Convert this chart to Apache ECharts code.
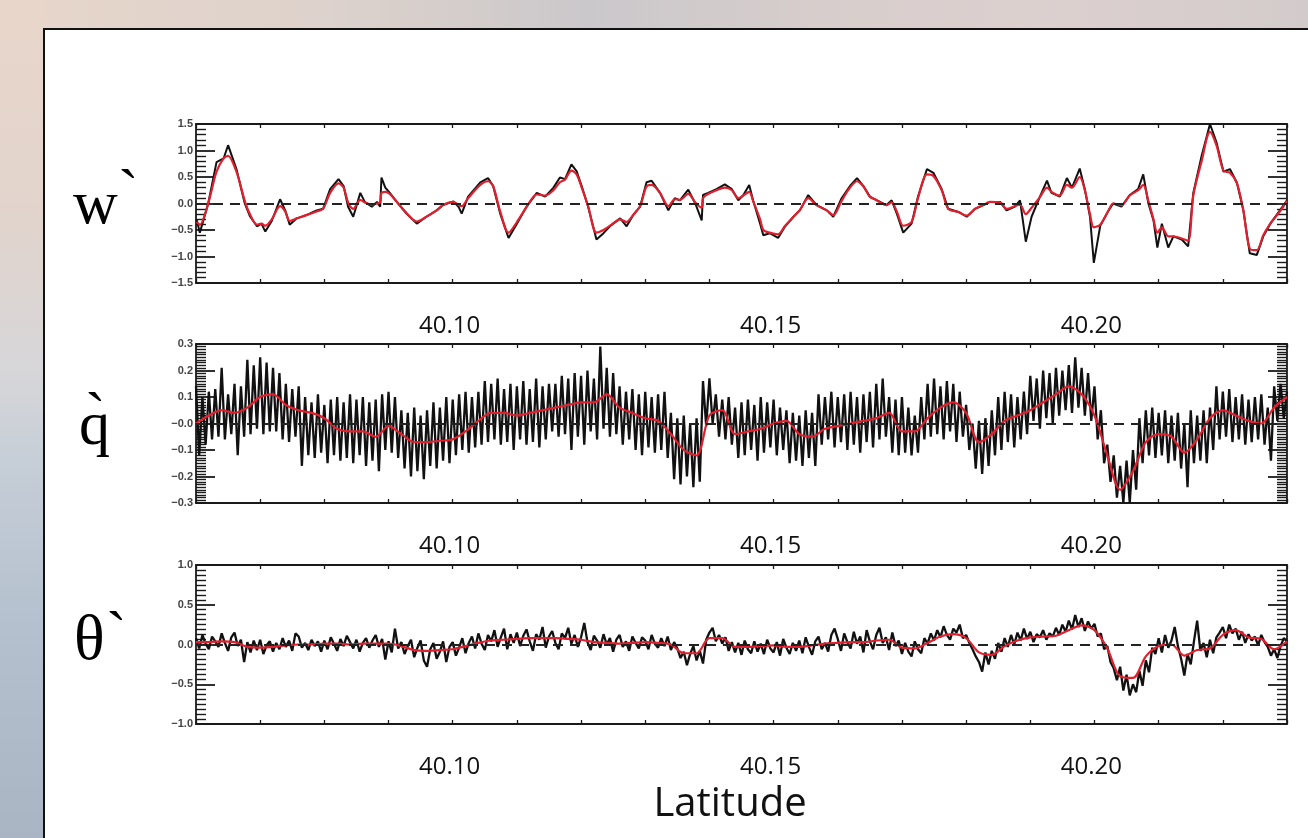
<!DOCTYPE html>
<html>
<head>
<meta charset="utf-8">
<script src="https://cdn.jsdelivr.net/npm/echarts@6/dist/echarts.min.js"></script>
<style>
html,body{margin:0;padding:0;width:1308px;height:838px;overflow:hidden;background:#d9d0cc;}
#bgTop{position:absolute;left:0;top:0;width:1308px;height:32px;
 background:linear-gradient(to right,#e7d6ca 0%,#ddd2cc 25%,#cbc8cb 45%,#d8cecc 65%,#dcd0cf 80%,#d3cbcb 100%);}
#bgLeft{position:absolute;left:0;top:0;width:46px;height:838px;
 background:linear-gradient(to bottom,#e8d6ca 0%,#e2d4cc 25%,#d6d6d9 45%,#c6ced7 55%,#b4c0ce 75%,#aab5c3 100%);}
#paper{position:absolute;left:43px;top:28px;width:1300px;height:900px;background:#fff;border-left:2px solid #111;border-top:2px solid #111;}
#chart{position:absolute;left:0;top:0;width:1308px;height:838px;}
</style>
</head>
<body>
<div id="bgTop"></div>
<div id="bgLeft"></div>
<div id="paper"></div>
<div id="chart"></div>
<script>
// ---------- data ----------
// w' : traced vertices (latitude, value)
const wLat = [40.0601,40.0606,40.0619,40.0632,40.0643,40.0650,40.0663,40.0676,40.0684,40.0695,
40.0702,40.0708,40.0718,40.0731,40.0739,40.0746,40.0757,40.0772,40.0788,40.0798,
40.0809,40.0822,40.0830,40.0837,40.0845,40.0856,40.0863,40.0874,40.0882,40.0887,
40.0889,40.0895,40.0902,40.0915,40.0928,40.0944,40.0959,40.0975,40.0985,40.1001,
40.1009,40.1014,40.1024,40.1043,40.1055,40.1063,40.1074,40.1087,40.1100,40.1115,
40.1131,40.1144,40.1157,40.1167,40.1175,40.1185,40.1193,40.1201,40.1211,40.1224,
40.1235,40.1245,40.1261,40.1271,40.1281,40.1292,40.1302,40.1310,40.1323,40.1336,
40.1346,40.1354,40.1367,40.1378,40.1388,40.1390,40.1398,40.1411,40.1424,40.1435,
40.1445,40.1453,40.1462,40.1468,40.1479,40.1484,40.1494,40.1507,40.1518,40.1531,
40.1541,40.1554,40.1567,40.1583,40.1593,40.1606,40.1619,40.1630,40.1640,40.1650,
40.1661,40.1676,40.1684,40.1692,40.1702,40.1715,40.1725,40.1739,40.1749,40.1762,
40.1772,40.1788,40.1801,40.1814,40.1827,40.1837,40.1853,40.1863,40.1876,40.1884,
40.1893,40.1902,40.1915,40.1926,40.1933,40.1946,40.1957,40.1965,40.1977,40.1985,
40.1993,40.1999,40.2009,40.2022,40.2029,40.2042,40.2055,40.2068,40.2076,40.2084,
40.2092,40.2098,40.2105,40.2115,40.2123,40.2136,40.2146,40.2154,40.2167,40.2180,
40.2190,40.2201,40.2211,40.2222,40.2232,40.2242,40.2253,40.2263,40.2274,40.2289,
40.2300];
const wBlack = [-0.30,-0.55,0.00,0.78,0.85,1.10,0.65,0.00,-0.24,-0.43,
-0.38,-0.53,-0.33,0.08,-0.13,-0.40,-0.28,-0.22,-0.13,-0.10,
0.27,0.46,0.33,-0.06,-0.25,0.20,0.03,-0.06,0.03,-0.06,
0.49,0.30,0.20,0.00,-0.19,-0.38,-0.25,-0.13,-0.03,0.04,
-0.06,-0.19,0.13,0.40,0.48,0.33,-0.19,-0.65,-0.38,-0.06,
0.20,0.13,0.30,0.49,0.46,0.74,0.61,0.33,-0.06,-0.68,
-0.56,-0.43,-0.28,-0.43,-0.22,-0.06,0.40,0.43,0.20,-0.13,
0.10,0.06,0.26,0.00,-0.32,0.16,0.20,0.27,0.36,0.27,
0.06,0.16,0.35,0.06,-0.38,-0.60,-0.56,-0.65,-0.43,-0.25,
-0.13,0.16,-0.03,-0.13,-0.25,0.10,0.33,0.48,0.33,0.13,
0.06,-0.03,0.06,-0.19,-0.55,-0.38,0.13,0.65,0.58,0.27,
-0.10,-0.16,-0.25,-0.10,-0.03,0.03,0.03,-0.13,-0.06,0.06,
-0.72,-0.25,0.13,0.43,0.20,0.13,0.48,0.30,0.66,0.27,
-0.25,-1.12,-0.42,-0.13,0.00,-0.06,0.16,0.27,0.55,0.00,
-0.32,-0.83,-0.38,-0.83,-0.62,-0.68,-0.81,0.20,0.90,1.50,
1.16,0.60,0.65,0.39,-0.13,-0.94,-0.97,-0.62,-0.38,-0.13,
0.06];
const wRed = [-0.35,-0.40,0.00,0.60,0.85,0.90,0.60,0.05,-0.20,-0.40,
-0.38,-0.42,-0.30,-0.05,-0.15,-0.33,-0.28,-0.22,-0.15,-0.10,
0.20,0.38,0.30,0.02,-0.10,0.07,0.02,-0.02,0.00,0.02,
0.20,0.22,0.18,0.00,-0.18,-0.34,-0.25,-0.13,-0.03,0.03,
-0.03,-0.05,0.10,0.35,0.42,0.33,-0.15,-0.55,-0.35,-0.07,
0.17,0.15,0.25,0.40,0.45,0.62,0.55,0.30,-0.05,-0.55,
-0.50,-0.42,-0.30,-0.35,-0.22,-0.05,0.32,0.35,0.20,-0.05,
0.08,0.07,0.18,0.02,-0.08,0.10,0.18,0.25,0.30,0.25,
0.10,0.15,0.22,0.05,-0.30,-0.50,-0.55,-0.58,-0.42,-0.25,
-0.12,0.10,-0.03,-0.13,-0.22,0.05,0.30,0.42,0.32,0.13,
0.06,-0.03,0.02,-0.15,-0.42,-0.35,0.10,0.55,0.52,0.25,
-0.10,-0.16,-0.23,-0.10,-0.03,0.03,0.02,-0.10,-0.05,-0.02,
-0.20,-0.08,0.12,0.30,0.22,0.15,0.35,0.30,0.50,0.25,
-0.20,-0.45,-0.40,-0.13,0.00,-0.03,0.15,0.25,0.35,0.05,
-0.30,-0.55,-0.45,-0.62,-0.62,-0.66,-0.70,0.15,0.80,1.35,
1.10,0.62,0.58,0.38,-0.13,-0.85,-0.88,-0.60,-0.38,-0.15,
0.05];

// sampling grids (latitude start and spacing of the samples)
const latStart = 40.06;
const fineStep = 0.0005;   // raw q' and theta' samples
const smoothStep = 0.002;  // smoothed (red) samples

const qBlack = [0.14,-0.12,0.10,-0.08,0.12,-0.06,0.13,-0.05,0.21,-0.06,0.11,-0.04,0.15,-0.12,0.14,-0.05,0.24,-0.04,0.22,-0.02,
0.25,-0.04,0.23,-0.03,0.21,-0.03,0.19,-0.06,0.15,-0.07,0.13,-0.05,0.14,-0.16,0.10,-0.12,0.08,-0.13,0.11,-0.11,
0.07,-0.15,0.09,-0.12,0.10,-0.14,0.08,-0.13,0.11,-0.15,0.09,-0.12,0.10,-0.16,0.08,-0.14,0.09,-0.18,0.11,-0.10,
0.12,-0.11,0.10,-0.13,0.05,-0.17,0.04,-0.20,0.06,-0.18,0.03,-0.21,0.05,-0.16,0.08,-0.17,0.06,-0.14,0.10,-0.15,
0.09,-0.12,0.11,-0.10,0.12,-0.11,0.10,-0.09,0.12,-0.08,0.16,-0.07,0.15,-0.06,0.17,-0.08,0.13,-0.07,0.15,-0.10,
0.14,-0.06,0.16,-0.08,0.13,-0.07,0.17,-0.09,0.14,-0.06,0.15,-0.03,0.15,-0.05,0.18,-0.04,0.17,-0.10,0.19,-0.05,
0.18,-0.08,0.20,-0.03,0.17,-0.06,0.29,-0.02,0.21,-0.05,0.19,-0.04,0.14,-0.08,0.12,-0.06,0.13,-0.10,0.11,-0.12,
0.12,-0.09,0.10,-0.11,0.11,-0.10,0.12,-0.13,0.04,-0.21,0.02,-0.23,0.03,-0.20,0.00,-0.24,0.02,-0.22,0.16,-0.01,
0.17,0.00,0.11,-0.05,0.09,-0.06,0.10,-0.08,0.06,-0.13,0.08,-0.12,0.09,-0.10,0.07,-0.14,0.10,-0.11,0.08,-0.09,
0.09,-0.12,0.06,-0.10,0.05,-0.15,0.04,-0.14,0.03,-0.16,0.05,-0.13,0.04,-0.16,0.11,-0.08,0.10,-0.06,0.12,-0.09,
0.10,-0.07,0.11,-0.10,0.12,-0.08,0.10,-0.11,0.11,-0.07,0.12,-0.09,0.15,-0.06,0.17,-0.05,0.10,-0.11,0.09,-0.12,
0.10,-0.11,0.06,-0.12,0.03,-0.11,0.10,-0.06,0.15,-0.05,0.17,-0.04,0.14,-0.06,0.16,-0.03,0.15,-0.07,0.12,-0.05,
0.07,-0.10,0.00,-0.17,0.01,-0.19,0.02,-0.16,0.05,-0.12,0.10,-0.10,0.12,-0.07,0.11,-0.09,0.10,-0.06,0.12,-0.04,
0.18,0.01,0.17,-0.02,0.20,0.02,0.19,0.00,0.21,0.03,0.20,0.05,0.22,0.04,0.25,0.06,0.21,0.03,0.19,0.01,
0.14,-0.06,0.05,-0.15,-0.08,-0.22,-0.12,-0.28,-0.16,-0.30,-0.14,-0.30,-0.10,-0.25,0.02,-0.15,0.05,-0.12,0.06,-0.13,
0.04,-0.12,0.05,-0.15,0.03,-0.14,0.04,-0.17,0.00,-0.24,0.05,-0.15,0.03,-0.14,0.05,-0.15,0.06,-0.10,0.14,-0.06,
0.12,-0.05,0.13,-0.07,0.10,-0.06,0.11,-0.08,0.09,-0.07,0.10,-0.06,0.11,-0.08,0.06,-0.14,0.14,0.01,0.15,0.02,0.12];
const qRed = [0.00,0.03,0.05,0.04,0.06,0.10,0.11,0.07,0.05,0.04,
0.02,-0.02,-0.03,-0.03,-0.05,-0.01,-0.04,-0.07,-0.07,-0.065,
-0.06,-0.03,0.01,0.04,0.04,0.03,0.04,0.05,0.06,0.07,
0.08,0.08,0.11,0.06,0.04,0.02,0.01,-0.04,-0.10,-0.12,
0.03,0.05,-0.04,-0.03,-0.02,0.00,0.01,-0.04,-0.05,-0.02,
-0.01,0.00,0.01,0.02,0.04,-0.03,-0.03,0.02,0.06,0.08,
0.04,-0.07,-0.04,0.01,0.03,0.05,0.08,0.11,0.14,0.11,
0.03,-0.12,-0.25,-0.18,-0.07,-0.04,-0.05,-0.11,-0.06,0.02,
0.05,0.03,0.01,0.00,0.06,0.10];

const thBlack = [0.08,-0.05,0.12,0.01,-0.06,0.10,0.04,-0.03,0.14,0.02,-0.08,0.09,0.15,-0.02,0.06,-0.22,0.03,-0.10,0.05,-0.07,
0.06,-0.12,-0.01,0.04,-0.09,0.02,-0.06,0.08,-0.03,0.05,-0.08,0.14,0.10,-0.04,0.02,-0.07,0.06,-0.02,0.04,-0.09,
0.05,-0.06,0.09,0.01,-0.08,0.07,-0.02,0.11,0.03,-0.05,0.06,-0.09,0.02,0.08,-0.04,0.05,0.12,-0.03,0.07,-0.19,
0.04,-0.10,0.20,-0.05,0.03,-0.12,-0.02,0.06,-0.16,-0.04,0.05,-0.20,-0.28,-0.06,0.02,-0.18,-0.09,0.04,-0.22,-0.03,
0.03,-0.14,-0.04,0.08,-0.11,0.02,0.10,-0.05,0.14,0.01,-0.07,0.12,0.04,0.18,-0.03,0.09,0.20,-0.06,0.13,0.02,
0.15,-0.02,0.11,0.19,0.04,-0.08,0.13,0.06,0.22,-0.04,0.10,0.17,0.02,-0.06,0.14,0.08,0.21,0.01,0.12,-0.03,
0.09,0.27,0.03,-0.07,0.11,0.05,-0.04,0.13,0.00,0.08,-0.09,0.06,0.12,-0.03,0.04,-0.08,0.10,0.02,-0.05,0.09,
0.05,-0.06,0.12,0.01,-0.04,0.08,-0.02,0.10,-0.07,0.03,-0.05,-0.17,-0.09,-0.26,-0.12,-0.02,-0.20,-0.08,-0.24,0.06,
0.15,0.21,0.04,0.12,0.01,0.09,-0.08,0.03,-0.10,0.02,-0.13,0.05,-0.06,-0.11,0.04,-0.09,0.01,-0.12,0.06,-0.05,
-0.10,0.03,-0.14,0.07,-0.04,-0.12,0.02,-0.08,0.05,-0.11,0.09,-0.03,-0.13,0.04,0.10,-0.06,0.02,-0.09,0.12,0.20,
0.07,-0.08,0.14,0.03,-0.05,0.16,0.01,0.10,-0.10,0.18,0.04,-0.06,0.12,0.21,0.02,0.09,-0.07,0.15,-0.02,0.05,
-0.12,0.02,-0.09,-0.15,0.04,-0.06,-0.11,0.08,0.01,0.14,0.05,0.18,0.09,0.23,0.12,0.06,0.20,0.15,0.25,0.08,
0.12,0.02,-0.06,-0.15,-0.22,-0.34,-0.10,-0.25,-0.08,-0.18,0.02,-0.09,0.08,-0.03,0.12,0.00,0.15,0.05,0.20,0.07,
0.16,0.03,0.13,0.09,0.18,0.06,0.14,0.10,0.21,0.12,0.25,0.16,0.30,0.19,0.37,0.22,0.33,0.17,0.29,0.20,
0.26,0.10,0.14,-0.06,-0.02,-0.22,-0.30,-0.45,-0.28,-0.58,-0.38,-0.64,-0.50,-0.60,-0.33,-0.52,-0.20,-0.35,-0.04,-0.12,
0.08,-0.10,0.12,-0.04,0.05,0.22,-0.02,-0.18,-0.39,-0.12,-0.25,0.04,0.30,-0.08,0.02,-0.16,0.06,-0.11,0.09,0.15,
0.22,0.08,0.25,0.14,0.20,0.06,0.16,0.02,0.13,0.05,0.10,-0.01,0.12,0.03,-0.03,-0.14,-0.06,-0.17,-0.02,0.08,0.04];
const thRed = [0.03,0.03,0.04,0.03,-0.03,-0.04,-0.03,-0.01,0.00,0.00,
0.01,0.01,0.00,0.01,0.01,0.01,-0.02,-0.07,-0.08,-0.07,
-0.06,-0.02,0.02,0.05,0.06,0.07,0.08,0.08,0.08,0.07,
0.06,0.03,0.02,0.01,0.02,0.03,0.02,0.00,-0.11,-0.11,
0.08,0.08,-0.03,-0.03,-0.02,-0.01,-0.03,-0.03,-0.01,0.01,
0.02,0.03,0.03,0.05,0.06,-0.04,-0.05,0.02,0.10,0.13,
0.08,-0.10,-0.13,-0.02,0.05,0.09,0.10,0.11,0.18,0.24,
0.18,-0.05,-0.40,-0.42,-0.15,-0.02,0.00,-0.14,-0.07,-0.05,
0.12,0.18,0.09,0.07,-0.06,0.04];

// axes / tick labels
const latMin = 40.06, latMax = 40.23, latTick = 0.01;
const xTickValues = [40.10, 40.15, 40.20];
const xTickLabels = ['40.10', '40.15', '40.20'];
const wTickValues = [1.5, 1.0, 0.5, 0.0, -0.5, -1.0, -1.5];
const wTickLabels = ['1.5', '1.0', '0.5', '0.0', '\u22120.5', '\u22121.0', '\u22121.5'];
const qTickValues = [0.3, 0.2, 0.1, 0.0, -0.1, -0.2, -0.3];
const qTickLabels = ['0.3', '0.2', '0.1', '\u22120.0', '\u22120.1', '\u22120.2', '\u22120.3'];
const thTickValues = [1.0, 0.5, 0.0, -0.5, -1.0];
const thTickLabels = ['1.0', '0.5', '0.0', '\u22120.5', '\u22121.0'];
const panelNames = ['w', 'q', '\u03b8'];
const xTitle = 'Latitude';

// ---------- build ----------
const pairs = (lats, vals) => vals.map((v, i) => [lats[i], v]);
const grid = (start, step, vals) => vals.map((v, i) => [+(start + i * step).toFixed(5), v]);

function lookup(values, labels) {
  return function (v) {
    for (let k = 0; k < values.length; k++) if (Math.abs(values[k] - v) < 1e-6) return labels[k];
    return '';
  };
}

const gridTops = [124, 344, 565];
const AX = '#1a1a1a';
const yDefs = [
  {min: -1.5, max: 1.5, interval: 0.5, minor: 5, vals: wTickValues, labs: wTickLabels},
  {min: -0.3, max: 0.3, interval: 0.1, minor: 10, vals: qTickValues, labs: qTickLabels},
  {min: -1.0, max: 1.0, interval: 0.5, minor: 8, vals: thTickValues, labs: thTickLabels}
];

const grids = [], xAxes = [], yAxes = [];
gridTops.forEach((t, g) => {
  grids.push({left: 196, right: 21, top: t, height: 159, containLabel: false});
  ['bottom', 'top'].forEach(pos => {
    xAxes.push({
      gridIndex: g, type: 'value', position: pos, min: latMin, max: latMax, interval: latTick,
      axisLine: {show: true, onZero: false, lineStyle: {color: AX, width: 1.8}},
      axisTick: {show: true, inside: true, length: 4, lineStyle: {color: AX, width: 1.3}},
      axisLabel: {show: pos === 'bottom', formatter: lookup(xTickValues, xTickLabels), margin: 31,
        padding: [0, 6, 0, 0],
        fontSize: 24, fontFamily: '"Open Sans", sans-serif', color: '#111', hideOverlap: false,
        showMinLabel: true, showMaxLabel: true},
      splitLine: {show: false}
    });
  });
  const d = yDefs[g];
  ['left', 'right'].forEach(pos => {
    yAxes.push({
      gridIndex: g, type: 'value', position: pos, min: d.min, max: d.max, interval: d.interval,
      axisLine: {show: true, onZero: false, lineStyle: {color: AX, width: 1.8}},
      axisTick: {show: true, inside: true, length: 19, lineStyle: {color: AX, width: 1.8}},
      minorTick: {show: true, splitNumber: d.minor, length: 10, lineStyle: {color: AX, width: 1.4}},
      axisLabel: {show: pos === 'left', formatter: lookup(d.vals, d.labs), margin: 3,
        fontSize: 11, fontWeight: 'bold', fontFamily: '"Liberation Sans", Arial, sans-serif', color: '#444'},
      splitLine: {show: false}
    });
  });
});

const zeroLine = {
  silent: true, symbol: 'none', label: {show: false},
  lineStyle: {type: [10, 7], color: '#222', width: 1.8},
  data: [{yAxis: 0}]
};
function blackSeries(g, data, w) {
  return {type: 'line', xAxisIndex: g * 2, yAxisIndex: g * 2, data: data, showSymbol: false, symbol: 'none',
    lineStyle: {color: '#111', width: w}, z: 2, animation: false, markLine: zeroLine};
}
function redSeries(g, data, smooth, w) {
  return {type: 'line', xAxisIndex: g * 2, yAxisIndex: g * 2, data: data, showSymbol: false, symbol: 'none',
    smooth: smooth, lineStyle: {color: '#e0202e', width: w}, z: 3, animation: false};
}

const series = [
  blackSeries(0, pairs(wLat, wBlack), 2.0),
  redSeries(0, pairs(wLat, wRed), 0.3, 2.2),
  blackSeries(1, grid(latStart, fineStep, qBlack), 2.3),
  redSeries(1, grid(latStart, smoothStep, qRed), 0.3, 2.2),
  blackSeries(2, grid(latStart, fineStep, thBlack), 2.3),
  redSeries(2, grid(latStart, smoothStep, thRed), 0.3, 2.2)
];

const serif = '"Liberation Serif", "Times New Roman", serif';
const graphic = [
  {type: 'text', x: 73, y: 207, style: {text: panelNames[0], font: '62px ' + serif, fill: '#000', textVerticalAlign: 'middle', verticalAlign: 'middle'}},
  {type: 'text', x: 118, y: 196, style: {text: '`', font: '62px ' + serif, fill: '#000', textVerticalAlign: 'middle', verticalAlign: 'middle'}},
  {type: 'text', x: 79, y: 428, style: {text: panelNames[1], font: '62px ' + serif, fill: '#000', textVerticalAlign: 'middle', verticalAlign: 'middle'}},
  {type: 'text', x: 85, y: 419, style: {text: '`', font: '62px ' + serif, fill: '#000', textVerticalAlign: 'middle', verticalAlign: 'middle'}},
  {type: 'text', x: 74, y: 642, style: {text: panelNames[2], font: '64px ' + serif, fill: '#000', textVerticalAlign: 'middle', verticalAlign: 'middle'}},
  {type: 'text', x: 106, y: 638, style: {text: '`', font: '62px ' + serif, fill: '#000', textVerticalAlign: 'middle', verticalAlign: 'middle'}},
  {type: 'text', x: 730, y: 805, style: {text: xTitle, font: '40px "Open Sans", sans-serif', fill: '#111',
    textAlign: 'center', align: 'center', textVerticalAlign: 'middle', verticalAlign: 'middle'}}
];

const chart = echarts.init(document.getElementById('chart'), null, {renderer: 'canvas'});
chart.setOption({
  backgroundColor: 'transparent',
  animation: false,
  grid: grids, xAxis: xAxes, yAxis: yAxes,
  series: series,
  graphic: graphic
});
</script>
</body>
</html>
